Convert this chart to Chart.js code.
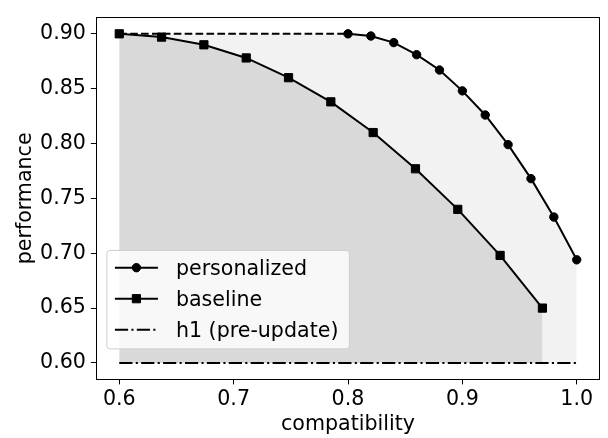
<!DOCTYPE html>
<html>
<head>
<meta charset="utf-8">
<script src="https://cdn.jsdelivr.net/npm/chart.js@4.4.0/dist/chart.umd.min.js"></script>
<style>
  html, body { margin: 0; padding: 0; background: #fff; }
</style>
</head>
<body>
<canvas id="myChart" width="608" height="438"></canvas>
<script>
// personalized model curve (compatibility >= 0.8)
var personalizedX = [0.80, 0.82, 0.84, 0.86, 0.88, 0.90, 0.92, 0.94, 0.96, 0.98, 1.00];
var personalizedY = [0.900, 0.898, 0.892, 0.881, 0.867, 0.848, 0.826, 0.799, 0.768, 0.733, 0.694];
// flat dashed part of personalized (no legend entry)
var flatX = [0.60, 0.80];
var flatY = [0.900, 0.900];
// baseline curve
var baselineX = [0.600, 0.637, 0.674, 0.711, 0.748, 0.785, 0.822, 0.859, 0.896, 0.933, 0.970];
var baselineY = [0.900, 0.897, 0.890, 0.878, 0.860, 0.838, 0.810, 0.777, 0.740, 0.698, 0.650];
// h1 (pre-update) reference level
var h1X = [0.60, 1.00];
var h1Y = [0.600, 0.600];

var xTicks = [0.6, 0.7, 0.8, 0.9, 1.0];
var yTicks = [0.60, 0.65, 0.70, 0.75, 0.80, 0.85, 0.90];

function toPoints(xs, ys) {
    return xs.map(function(x, i) { return {x: x, y: ys[i]}; });
}

var FONT = 'DejaVu Sans';
var FS = 20.6;

function drawMarker(ctx, style, r, x, y) {
    ctx.save();
    ctx.fillStyle = '#000';
    ctx.strokeStyle = '#000';
    ctx.lineWidth = 1;
    ctx.setLineDash([]);
    ctx.beginPath();
    if (style === 'rect') {
        var s = r * Math.SQRT1_2;
        ctx.rect(x - s, y - s, 2 * s, 2 * s);
    } else {
        ctx.arc(x, y, r, 0, Math.PI * 2);
    }
    ctx.fill();
    ctx.stroke();
    ctx.restore();
}

// axes frame + legend inside the plot
var framePlugin = {
    id: 'frameAndLegend',
    afterDraw: function(chart) {
        var ctx = chart.ctx;
        var a = chart.chartArea;
        ctx.save();
        ctx.strokeStyle = '#000';
        ctx.lineWidth = 1;
        ctx.strokeRect(Math.round(a.left) + 0.5, Math.round(a.top) + 0.5,
            Math.round(a.right - a.left), Math.round(a.bottom - a.top));

        // legend box
        var bx = a.left + 10.5, by = a.bottom - 129, bw = 242.5, bh = 98.5, rr = 3;
        ctx.beginPath();
        ctx.moveTo(bx + rr, by);
        ctx.arcTo(bx + bw, by, bx + bw, by + bh, rr);
        ctx.arcTo(bx + bw, by + bh, bx, by + bh, rr);
        ctx.arcTo(bx, by + bh, bx, by, rr);
        ctx.arcTo(bx, by, bx + bw, by, rr);
        ctx.closePath();
        ctx.fillStyle = 'rgba(255,255,255,0.8)';
        ctx.fill();
        ctx.strokeStyle = '#cccccc';
        ctx.stroke();

        var rowY = by + 17.3;
        chart.data.datasets.forEach(function(ds) {
            if (ds.inLegend === false) return;
            var x0 = bx + 8, x1 = bx + 51;
            ctx.save();
            ctx.strokeStyle = ds.borderColor;
            ctx.lineWidth = ds.borderWidth;
            ctx.setLineDash(ds.borderDash || []);
            ctx.beginPath();
            ctx.moveTo(x0, rowY);
            ctx.lineTo(x1, rowY);
            ctx.stroke();
            ctx.restore();
            if (ds.pointRadius > 0) {
                drawMarker(ctx, ds.pointStyle, ds.pointRadius, (x0 + x1) / 2, rowY);
            }
            ctx.fillStyle = '#000';
            ctx.font = FS + 'px "' + FONT + '"';
            ctx.textAlign = 'left';
            ctx.textBaseline = 'alphabetic';
            ctx.fillText(ds.label, bx + 69, rowY + 7.3);
            rowY += 31;
        });
        ctx.restore();
    }
};

var ctx = document.getElementById('myChart').getContext('2d');
var myChart = new Chart(ctx, {
    type: 'line',
    data: {
        datasets: [{
            label: 'personalized',
            data: toPoints(personalizedX, personalizedY),
            borderColor: '#000',
            borderWidth: 2,
            pointStyle: 'circle',
            pointRadius: 4.2,
            pointBorderWidth: 1,
            pointBackgroundColor: '#000',
            pointBorderColor: '#000',
            backgroundColor: '#f2f2f2',
            fill: {value: 0.6},
            order: 1
        }, {
            label: 'baseline',
            data: toPoints(baselineX, baselineY),
            borderColor: '#000',
            borderWidth: 2,
            pointStyle: 'rect',
            pointRadius: 5.8,
            pointBorderWidth: 1,
            pointBackgroundColor: '#000',
            pointBorderColor: '#000',
            backgroundColor: '#d9d9d9',
            fill: {value: 0.6},
            order: 0
        }, {
            label: 'h1 (pre-update)',
            data: toPoints(h1X, h1Y),
            borderColor: '#000',
            borderWidth: 2,
            borderDash: [13.2, 3.3, 2.1, 3.3],
            pointRadius: 0,
            fill: false,
            order: 3
        }, {
            label: 'flat',
            inLegend: false,
            data: toPoints(flatX, flatY),
            borderColor: '#000',
            borderWidth: 2,
            borderDash: [7.6, 3.3],
            pointRadius: 0,
            backgroundColor: '#f2f2f2',
            fill: {value: 0.6},
            order: 2
        }]
    },
    options: {
        responsive: false,
        animation: false,
        events: [],
        elements: { line: { tension: 0 } },
        layout: { padding: { left: 0, right: 8.4, top: 3.6, bottom: 0 } },
        plugins: {
            legend: { display: false },
            tooltip: { enabled: false },
            filler: { drawTime: 'beforeDatasetsDraw' }
        },
        scales: {
            x: {
                type: 'linear',
                min: 0.58,
                max: 1.02,
                afterBuildTicks: function(scale) {
                    scale.ticks = xTicks.map(function(v) { return {value: v}; });
                },
                afterFit: function(scale) { scale.height = 58.6; },
                ticks: {
                    font: {family: FONT, size: FS},
                    color: '#000',
                    padding: 2.8,
                    maxRotation: 0,
                    callback: function(v) { return Number(v).toFixed(1); }
                },
                grid: { drawOnChartArea: false, drawTicks: true, tickLength: 5, tickColor: '#000', tickWidth: 1 },
                border: { display: false },
                title: {
                    display: true,
                    text: 'compatibility',
                    font: {family: FONT, size: FS},
                    color: '#000',
                    padding: {top: 0, bottom: 1.4}
                }
            },
            y: {
                type: 'linear',
                min: 0.585,
                max: 0.915,
                afterBuildTicks: function(scale) {
                    scale.ticks = yTicks.map(function(v) { return {value: v}; });
                },
                afterFit: function(scale) { scale.width = 96.4; },
                ticks: {
                    font: {family: FONT, size: FS},
                    color: '#000',
                    padding: 5,
                    callback: function(v) { return Number(v).toFixed(2); }
                },
                grid: { drawOnChartArea: false, drawTicks: true, tickLength: 5.5, tickColor: '#000', tickWidth: 1 },
                border: { display: false },
                title: {
                    display: true,
                    text: 'performance',
                    font: {family: FONT, size: FS},
                    color: '#000',
                    padding: {top: 13.5, bottom: 0}
                }
            }
        }
    },
    plugins: [framePlugin]
});
</script>
</body>
</html>
